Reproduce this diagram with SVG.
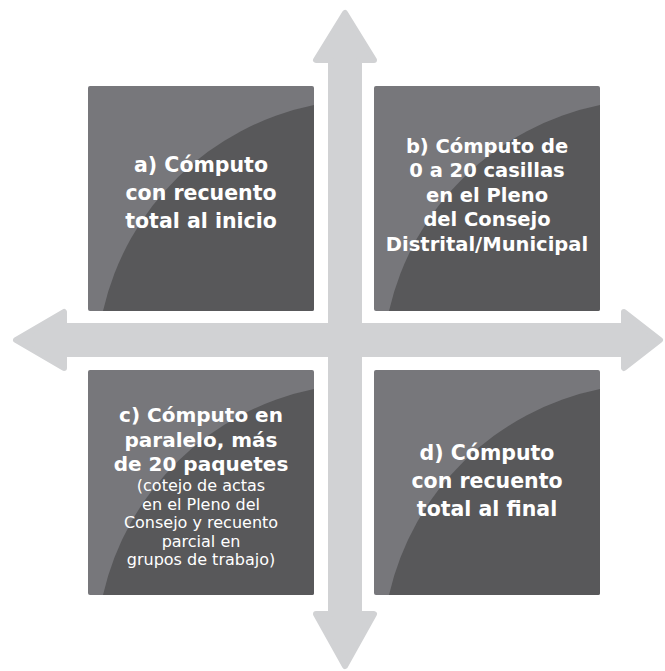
<svg xmlns="http://www.w3.org/2000/svg" xmlns:xlink="http://www.w3.org/1999/xlink" width="665" height="671" viewBox="0 0 665 671">
<style>
.arrow{fill:#d1d2d4;stroke:#d1d2d4;stroke-width:6;stroke-linejoin:round}
.light{fill:#77777b}
.dark{fill:#58585a}
.t{font-family:"DejaVu Sans","Liberation Sans",sans-serif;fill:#ffffff;text-anchor:middle}
.b{font-weight:bold}
.big{font-size:20.5px}
.mid{font-size:19.5px}
.cb{font-size:20px}
.sm{font-size:16px}
</style>
<defs>
<g id="tile">
<rect x="0" y="0" width="226" height="225" rx="2" class="light"/>
<path d="M226,19 A272,272 0 0 0 15,225 L224,225 Q226,225 226,223 Z" class="dark"/>
</g>
</defs>
<rect width="665" height="671" fill="#ffffff"/>
<g id="connectors">
<path class="arrow" d="M345,13 L316,60 L331,60 L331,614 L316,614 L345,666 L374,614 L359,614 L359,60 L374,60 Z"/>
<path class="arrow" d="M16,340 L64,312 L64,326 L624,326 L624,312 L660,340 L624,368 L624,354 L64,354 L64,368 Z"/>
</g>
<g id="node-a">
<use xlink:href="#tile" transform="translate(88,86)"/>
<text class="t b big" x="201" y="172">a) Cómputo</text>
<text class="t b big" x="201" y="200">con recuento</text>
<text class="t b big" x="201" y="228">total al inicio</text>
</g>
<g id="node-b">
<use xlink:href="#tile" transform="translate(374,86)"/>
<text class="t b mid" x="487" y="153">b) Cómputo de</text>
<text class="t b mid" x="487" y="177">0 a 20 casillas</text>
<text class="t b mid" x="487" y="202">en el Pleno</text>
<text class="t b mid" x="487" y="226">del Consejo</text>
<text class="t b mid" x="487" y="251">Distrital/Municipal</text>
</g>
<g id="node-c">
<use xlink:href="#tile" transform="translate(88,370)"/>
<text class="t b cb" x="201" y="422">c) Cómputo en</text>
<text class="t b cb" x="201" y="447">paralelo, más</text>
<text class="t b cb" x="201" y="471">de 20 paquetes</text>
<text class="t sm" x="201" y="491">(cotejo de actas</text>
<text class="t sm" x="201" y="510">en el Pleno del</text>
<text class="t sm" x="201" y="528">Consejo y recuento</text>
<text class="t sm" x="201" y="547">parcial en</text>
<text class="t sm" x="201" y="565">grupos de trabajo)</text>
</g>
<g id="node-d">
<use xlink:href="#tile" transform="translate(374,370)"/>
<text class="t b big" x="487" y="460">d) Cómputo</text>
<text class="t b big" x="487" y="488">con recuento</text>
<text class="t b big" x="487" y="516">total al final</text>
</g>
</svg>
